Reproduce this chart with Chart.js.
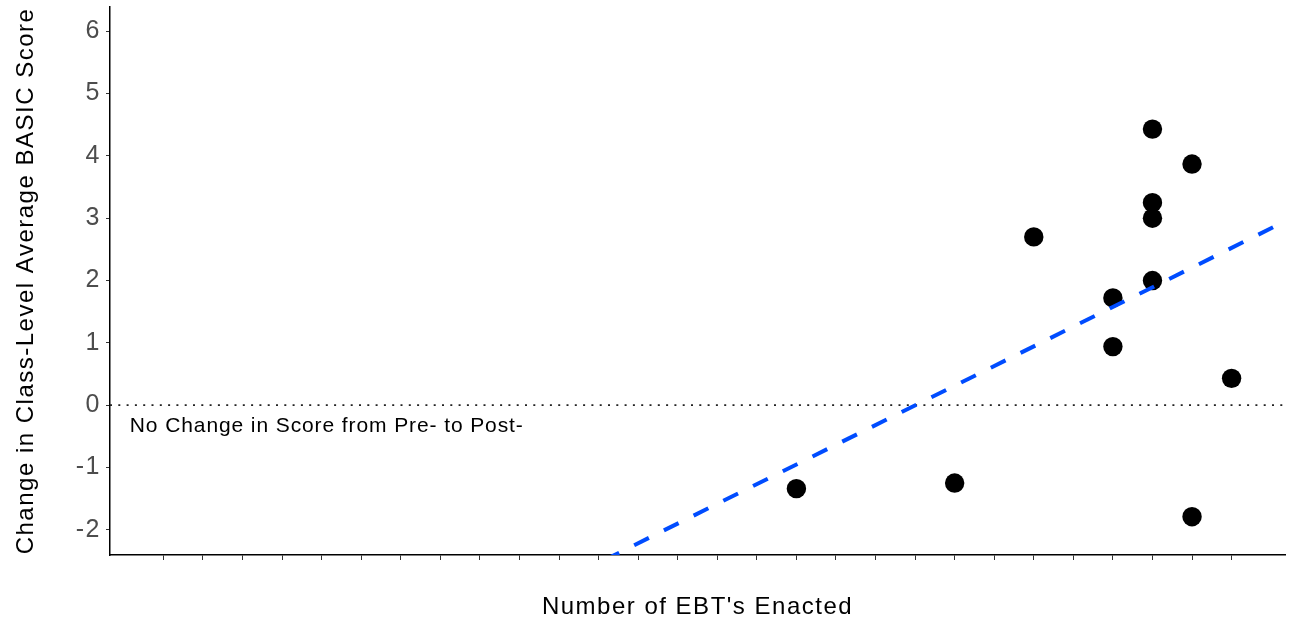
<!DOCTYPE html>
<html>
<head>
<meta charset="utf-8">
<title>Change in BASIC score vs number of EBTs enacted</title>
<script src="https://cdn.jsdelivr.net/npm/chart.js@4/dist/chart.umd.min.js"></script>
<style>
  html, body { margin: 0; padding: 0; background: #fff; }
  #wrap { width: 1291px; height: 619px; position: relative; }
</style>
</head>
<body>
<div id="wrap"><canvas id="chart"></canvas></div>
<script>
// One point per class: EBTs enacted and change in class-level average BASIC score
const ebtCounts   = [16, 20, 22, 24, 24, 25, 25, 25, 25, 26, 26, 27];
const scoreChange = [-1.34, -1.25, 2.70, 1.72, 0.94, 4.43, 3.25, 3.00, 2.00, 3.87, -1.79, 0.43];

// Axis ticks (x ticks carry no labels)
const xTickValues = [0, 1, 2, 3, 4, 5, 6, 7, 8, 9, 10, 11, 12, 13, 14, 15, 16, 17, 18, 19, 20, 21, 22, 23, 24, 25, 26, 27];
const yTickValues = [-2, -1, 0, 1, 2, 3, 4, 5, 6];

// Reference-line label
const noteText = 'No Change in Score from Pre- to Post-';
const noteAt = { x: -0.85, y: -0.33 };

const X_MIN = -1.35, X_MAX = 28.35;
const Y_MIN = -2.405, Y_MAX = 6.39;
const FONT = "'Liberation Sans', Arial, Helvetica, sans-serif";

// Ordinary least-squares fit of the score change on the EBT count
function leastSquares(xs, ys) {
  const n = xs.length;
  const mx = xs.reduce((a, b) => a + b, 0) / n;
  const my = ys.reduce((a, b) => a + b, 0) / n;
  let sxy = 0, sxx = 0;
  for (let i = 0; i < n; i++) {
    sxy += (xs[i] - mx) * (ys[i] - my);
    sxx += (xs[i] - mx) * (xs[i] - mx);
  }
  const slope = sxy / sxx;
  return { slope, intercept: my - slope * mx };
}
const fit = leastSquares(ebtCounts, scoreChange);
const fitLine = [X_MIN, X_MAX].map(x => ({ x, y: fit.intercept + fit.slope * x }));

const points = ebtCounts.map((x, i) => ({ x, y: scoreChange[i] }));
const zeroLine = [{ x: X_MIN, y: 0 }, { x: X_MAX, y: 0 }];

// Slightly open tracking for all scale text
const textSpacing = {
  id: 'textSpacing',
  beforeUpdate(chart) { chart.ctx.letterSpacing = '1.5px'; },
  beforeDraw(chart) { chart.ctx.letterSpacing = '1.5px'; }
};

// Label under the dotted zero line
const zeroNote = {
  id: 'zeroNote',
  afterDatasetsDraw(chart) {
    const { ctx, scales } = chart;
    ctx.save();
    ctx.letterSpacing = '0.9px';
    ctx.font = '21px ' + FONT;
    ctx.fillStyle = '#000';
    ctx.textAlign = 'left';
    ctx.textBaseline = 'middle';
    ctx.fillText(noteText, scales.x.getPixelForValue(noteAt.x), scales.y.getPixelForValue(noteAt.y));
    ctx.restore();
  }
};

// Keep the plot panel fixed: no extra room reserved for edge labels
function noEdgePadding(scale) {
  scale.paddingTop = 0;
  scale.paddingBottom = 0;
  scale.paddingLeft = 0;
  scale.paddingRight = 0;
}

new Chart(document.getElementById('chart'), {
  data: {
    datasets: [
      {
        type: 'line',
        label: 'Linear fit',
        data: fitLine,
        borderColor: '#004cff',
        borderWidth: 4,
        borderDash: [16.4, 16.8],
        borderDashOffset: 12.1,
        pointRadius: 0,
        fill: false,
        tension: 0,
        order: 0
      },
      {
        type: 'scatter',
        label: 'Classes',
        data: points,
        pointRadius: 9.7,
        pointHoverRadius: 9.7,
        backgroundColor: '#000',
        borderWidth: 0,
        order: 1
      },
      {
        type: 'line',
        label: 'No change',
        data: zeroLine,
        borderColor: '#222',
        borderWidth: 1.8,
        borderDash: [2, 6.3],
        pointRadius: 0,
        fill: false,
        order: 2
      }
    ]
  },
  options: {
    responsive: true,
    maintainAspectRatio: false,
    animation: false,
    events: [],
    layout: { autoPadding: false, padding: { top: 7, right: 6, bottom: 0, left: 0 } },
    plugins: { legend: { display: false }, tooltip: { enabled: false } },
    scales: {
      x: {
        type: 'linear',
        min: X_MIN,
        max: X_MAX,
        afterBuildTicks(scale) { scale.ticks = xTickValues.map(v => ({ value: v })); },
        afterFit(scale) { scale.height = 64; noEdgePadding(scale); },
        ticks: { autoSkip: false, callback: () => '', padding: 0 },
        grid: { drawOnChartArea: false, drawTicks: true, tickLength: 5, color: '#333', lineWidth: 1 },
        border: { display: true, color: '#000', width: 1.5 },
        title: {
          display: true,
          text: "Number of EBT's Enacted",
          color: '#000',
          font: { family: FONT, size: 24, lineHeight: 1 },
          padding: { top: 0, bottom: 0 }
        }
      },
      y: {
        type: 'linear',
        min: Y_MIN,
        max: Y_MAX,
        afterBuildTicks(scale) { scale.ticks = yTickValues.map(v => ({ value: v })); },
        afterFit(scale) { scale.width = 110; noEdgePadding(scale); },
        ticks: { color: '#4d4d4d', font: { family: FONT, size: 25 }, padding: 5 },
        grid: { drawOnChartArea: false, drawTicks: true, tickLength: 4, color: '#333', lineWidth: 1 },
        border: { display: true, color: '#000', width: 1.5 },
        title: {
          display: true,
          text: 'Change in Class-Level Average BASIC Score',
          color: '#000',
          font: { family: FONT, size: 24, lineHeight: 1.2 },
          padding: { top: 11.6, bottom: 0 }
        }
      }
    }
  },
  plugins: [textSpacing, zeroNote]
});
</script>
</body>
</html>
